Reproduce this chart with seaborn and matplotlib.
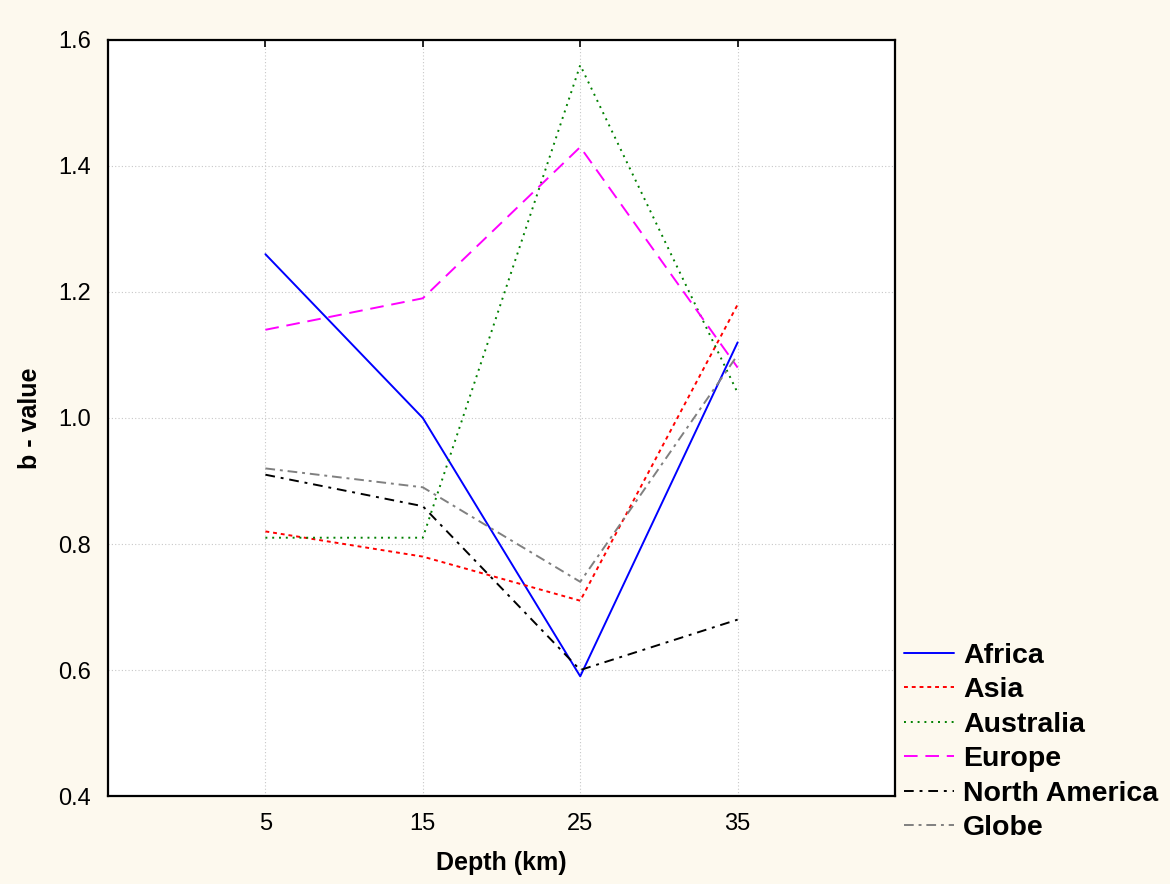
import matplotlib
matplotlib.use("Agg")
import matplotlib.pyplot as plt
import seaborn as sns
import pandas as pd

depth = [5, 15, 25, 35]
africa = [1.26, 1.00, 0.59, 1.12]
asia = [0.82, 0.78, 0.71, 1.18]
australia = [0.81, 0.81, 1.56, 1.04]
europe = [1.14, 1.19, 1.43, 1.08]
north_america = [0.91, 0.86, 0.60, 0.68]
globe = [0.92, 0.89, 0.74, 1.10]

regions = ["Africa", "Asia", "Australia", "Europe", "North America", "Globe"]
values = [africa, asia, australia, europe, north_america, globe]

rows = []
for name, vals in zip(regions, values):
    for d, v in zip(depth, vals):
        rows.append({"depth": d, "b": v, "region": name})
df = pd.DataFrame(rows)

sns.set_style("white")
plt.rcParams["font.family"] = ["Liberation Sans", "DejaVu Sans"]
plt.rcParams["text.color"] = "black"
plt.rcParams["axes.labelcolor"] = "black"
plt.rcParams["xtick.color"] = "black"
plt.rcParams["ytick.color"] = "black"

colors = {"Africa": "#0000ff", "Asia": "#ff0000", "Australia": "#008000",
          "Europe": "#ff00ff", "North America": "#000000", "Globe": "#808080"}
dashes = {"Africa": "", "Asia": (2, 2), "Australia": (1, 2.5), "Europe": (7, 4),
          "North America": (5, 3, 1.5, 3), "Globe": (5, 2.5, 1.5, 2.5)}

fig = plt.figure(figsize=(11.7, 8.84), dpi=100, facecolor="#fdf9ee")
ax = fig.add_axes([0.0923, 0.0995, 0.6727, 0.8553])
ax.set_facecolor("white")

sns.lineplot(data=df, x="depth", y="b", hue="region", style="region",
             palette=colors, dashes=dashes, hue_order=regions, style_order=regions,
             linewidth=1.4, ax=ax)

ax.set_xlim(-5, 45)
ax.set_ylim(0.4, 1.6)
ax.set_xticks(depth)
ax.set_yticks([0.4, 0.6, 0.8, 1.0, 1.2, 1.4, 1.6])
ax.set_yticklabels(["0.4", "0.6", "0.8", "1.0", "1.2", "1.4", "1.6"])
ax.grid(True, color="#c8c8c8", linestyle=(0, (1, 2)), linewidth=0.8)
ax.tick_params(axis="both", labelsize=17, direction="in", length=5, width=1.2,
               top=True, right=False, left=False)
ax.tick_params(axis="x", pad=12)
ax.tick_params(axis="y", pad=12)
for s in ax.spines.values():
    s.set_color("black")
    s.set_linewidth(1.6)

ax.set_xlabel("Depth (km)", fontsize=18, fontweight="bold", labelpad=12)
ax.set_ylabel("b - value", fontsize=18, fontweight="bold", labelpad=12)

leg = ax.legend(loc="lower left", bbox_to_anchor=(1.012, -0.06), frameon=False,
                prop={"size": 20.5, "weight": "bold"}, handlelength=1.75,
                labelspacing=0.3, handletextpad=0.3, borderpad=0, borderaxespad=0)
for line in leg.get_lines():
    line.set_linewidth(1.4)

fig.savefig("out.png", dpi=100, facecolor=fig.get_facecolor())
